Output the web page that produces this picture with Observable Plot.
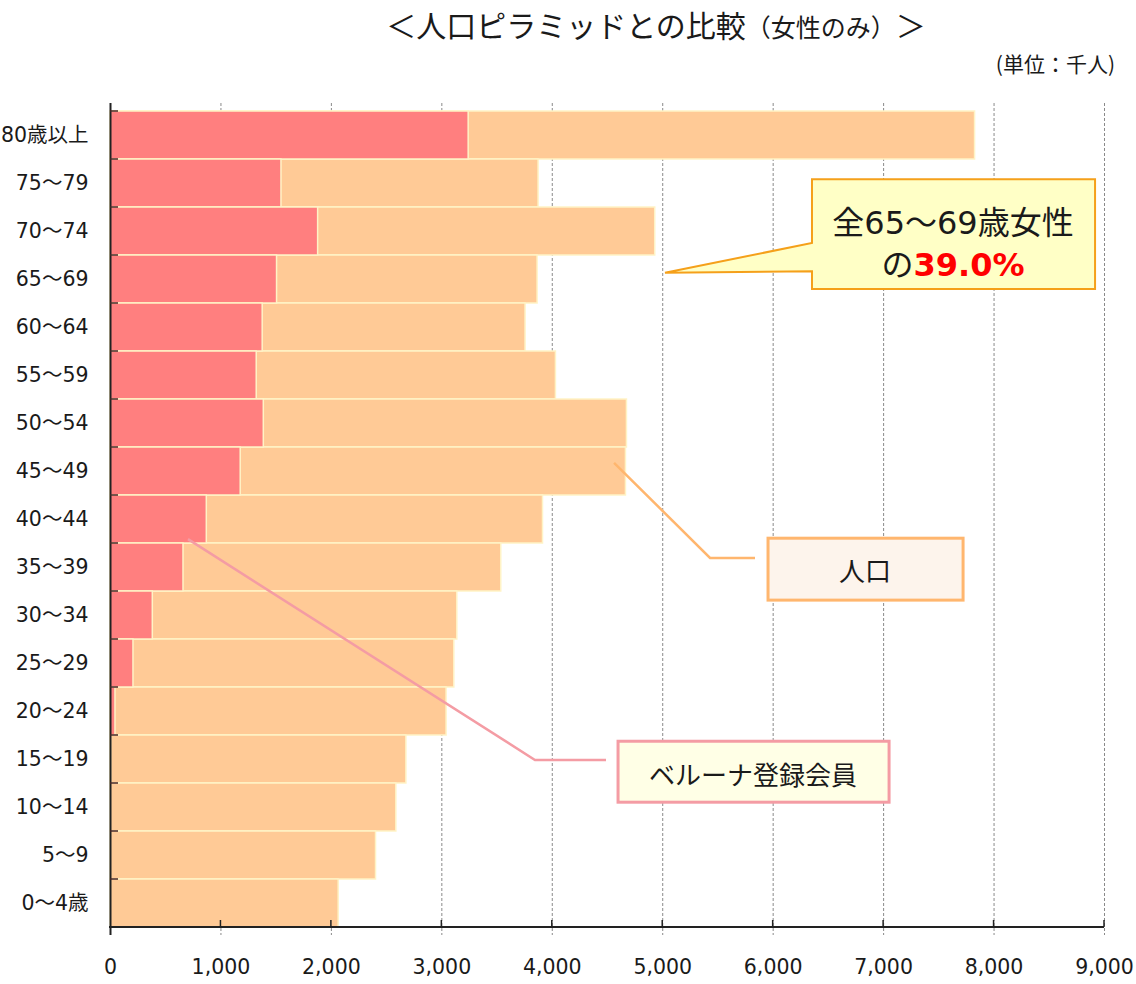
<!DOCTYPE html>
<html>
<head>
<meta charset="utf-8">
<script src="https://cdn.jsdelivr.net/npm/d3@7"></script>
<script src="https://cdn.jsdelivr.net/npm/@observablehq/plot@0.6"></script>
<style>
  body { margin: 0; background: #fff; }
  svg { display: block; }
</style>
</head>
<body>
<div id="chart"></div>
<script>
// ---- data (thousand persons, women only) ----
const ages = ["80歳以上", "75～79", "70～74", "65～69", "60～64", "55～59", "50～54", "45～49",
              "40～44", "35～39", "30～34", "25～29", "20～24", "15～19", "10～14", "5～9", "0～4歳"];
const population = [7828, 3876, 4932, 3867, 3758, 4033, 4676, 4667, 3916, 3538, 3140, 3113, 3043, 2679, 2588, 2404, 2066];
const members = [3243, 1548, 1880, 1508, 1378, 1324, 1388, 1179, 872, 661, 383, 208, 45, 5, 0, 0, 0];
const xTicks = [0, 1000, 2000, 3000, 4000, 5000, 6000, 7000, 8000, 9000];

const titleMain = "＜人口ピラミッドとの比較";
const titleSub = "（女性のみ）";
const titleEnd = "＞";
const unitLabel = "(単位：千人)";
const calloutLine1 = "全65～69歳女性";
const calloutLine2a = "の";
const calloutLine2b = "39.0%";
const popLabel = "人口";
const memberLabel = "ベルーナ登録会員";

const rows = ages.map((age, i) => ({age, population: population[i], members: members[i]}));

const FONT = '"DejaVu Sans", "Noto Sans CJK JP", sans-serif';
const CJK = '"Noto Sans CJK JP", "DejaVu Sans", sans-serif';

const plot = Plot.plot({
  width: 1136,
  height: 984,
  marginLeft: 110,
  marginRight: 32,
  marginTop: 103,
  marginBottom: 49,
  style: {fontFamily: FONT, fontSize: "20.5px", color: "#1a1a1a", background: "#fff"},
  x: {domain: [0, 9000], label: null},
  y: {domain: ages, padding: 0, label: null},
  marks: [
    Plot.gridX(xTicks.filter(d => d > 0), {stroke: "#8a8a8a", strokeOpacity: 1, strokeDasharray: "3,2"}),
    Plot.barX(rows, {x: "population", y: "age", fill: "#FFCA96", stroke: "#FFF3C6", strokeWidth: 1.5}),
    Plot.barX(rows.filter(d => d.members > 0), {x: "members", y: "age", fill: "#FF7F7F", stroke: "#FFF3C6", strokeWidth: 1.5}),
    Plot.ruleX([0], {stroke: "#222", strokeWidth: 2}),
    Plot.axisX(xTicks, {tickSize: 0, tickPadding: 24, tickFormat: d3.format(",")}),
    Plot.axisY({tickSize: 0, tickPadding: 22})
  ]
});

document.getElementById("chart").append(plot);

const svg = d3.select(plot);
const sx = plot.scale("x");
const sy = plot.scale("y");
const X = v => sx.apply(v);
const yTop = sy.apply(ages[0]);
const step = sy.step ?? sy.bandwidth;
const R = r => yTop + r * step;
const nRows = ages.length;

const g = svg.append("g");

// bottom axis line
g.append("line")
  .attr("x1", X(0) - 1).attr("x2", X(9000))
  .attr("y1", R(nRows)).attr("y2", R(nRows))
  .attr("stroke", "#222").attr("stroke-width", 2);

// inward x ticks
xTicks.filter(d => d > 0).forEach(t => {
  g.append("line")
    .attr("x1", X(t)).attr("x2", X(t))
    .attr("y1", R(nRows)).attr("y2", R(nRows) - 7)
    .attr("stroke", "#222").attr("stroke-width", 1.5);
});

// inward y ticks at band boundaries
for (let i = 0; i < nRows; i++) {
  g.append("line")
    .attr("x1", X(0)).attr("x2", X(0) + 8)
    .attr("y1", R(i)).attr("y2", R(i))
    .attr("stroke", "#4a2424").attr("stroke-width", 1.5);
}

// ---- annotations (x in data units, y in row units from the top) ----
// Callout: 全65～69歳女性の39.0%
const cb = {x1: 6356, x2: 8919, r1: 1.42, r2: 3.71, tipX: 5025, tipR: 3.37, baseR1: 2.75, baseR2: 3.34, cx: 7633, line1R: 2.33, line2R: 3.2};
g.append("path")
  .attr("d", `M${X(cb.x1)},${R(cb.r1)} H${X(cb.x2)} V${R(cb.r2)} H${X(cb.x1)} V${R(cb.baseR2)} L${X(cb.tipX)},${R(cb.tipR)} L${X(cb.x1)},${R(cb.baseR1)} Z`)
  .attr("fill", "#FFFFC6").attr("stroke", "#F5A01A").attr("stroke-width", 2).attr("stroke-linejoin", "miter");
g.append("text")
  .attr("x", X(cb.cx)).attr("y", R(cb.line1R))
  .attr("text-anchor", "middle").attr("dominant-baseline", "central")
  .attr("font-family", FONT).attr("font-size", 32).attr("fill", "#1a1a1a")
  .text(calloutLine1);
const t2 = g.append("text")
  .attr("x", X(cb.cx)).attr("y", R(cb.line2R))
  .attr("text-anchor", "middle").attr("dominant-baseline", "central")
  .attr("font-family", FONT).attr("font-size", 32);
t2.append("tspan").attr("fill", "#1a1a1a").text(calloutLine2a);
t2.append("tspan").attr("fill", "#FF0000").attr("font-weight", "bold").text(calloutLine2b);

// 人口 label with leader
const pb = {x1: 5958, x2: 7724, r1: 8.90, r2: 10.19, cx: 6836, cr: 9.56};
const pLeader = [[4564, 7.33], [5433, 9.31], [5840, 9.31]];
g.append("path")
  .attr("d", "M" + pLeader.map(([x, r]) => `${X(x)},${R(r)}`).join(" L"))
  .attr("fill", "none").attr("stroke", "#FFB66E").attr("stroke-width", 2.5);
g.append("rect")
  .attr("x", X(pb.x1)).attr("y", R(pb.r1))
  .attr("width", X(pb.x2) - X(pb.x1)).attr("height", R(pb.r2) - R(pb.r1))
  .attr("fill", "#FDF4EC").attr("stroke", "#FFB66E").attr("stroke-width", 3);
g.append("text")
  .attr("x", X(pb.cx)).attr("y", R(pb.cr))
  .attr("text-anchor", "middle").attr("dominant-baseline", "central")
  .attr("font-family", CJK).attr("font-size", 26).attr("fill", "#1a1a1a")
  .text(popLabel);

// ベルーナ登録会員 label with leader
const mb = {x1: 4600, x2: 7054, r1: 13.13, r2: 14.40, cx: 5822, cr: 13.80};
const mLeader = [[706, 8.92], [3848, 13.52], [4491, 13.52]];
g.append("path")
  .attr("d", "M" + mLeader.map(([x, r]) => `${X(x)},${R(r)}`).join(" L"))
  .attr("fill", "none").attr("stroke", "#F49CA4").attr("stroke-width", 2.5);
g.append("rect")
  .attr("x", X(mb.x1)).attr("y", R(mb.r1))
  .attr("width", X(mb.x2) - X(mb.x1)).attr("height", R(mb.r2) - R(mb.r1))
  .attr("fill", "#FFFFE6").attr("stroke", "#F49CA4").attr("stroke-width", 3);
g.append("text")
  .attr("x", X(mb.cx)).attr("y", R(mb.cr))
  .attr("text-anchor", "middle").attr("dominant-baseline", "central")
  .attr("font-family", CJK).attr("font-size", 26).attr("fill", "#1a1a1a")
  .text(memberLabel);

// ---- title and unit ----
const title = svg.append("text")
  .attr("x", 656).attr("y", 37)
  .attr("text-anchor", "middle")
  .attr("font-family", CJK).attr("fill", "#1a1a1a");
title.append("tspan").attr("font-size", 30).text(titleMain);
title.append("tspan").attr("font-size", 25).text(titleSub);
title.append("tspan").attr("font-size", 30).text(titleEnd);

svg.append("text")
  .attr("x", 1115).attr("y", 63)
  .attr("text-anchor", "end").attr("dominant-baseline", "central")
  .attr("font-family", CJK).attr("font-size", 21).attr("fill", "#1a1a1a")
  .text(unitLabel);
</script>
</body>
</html>
